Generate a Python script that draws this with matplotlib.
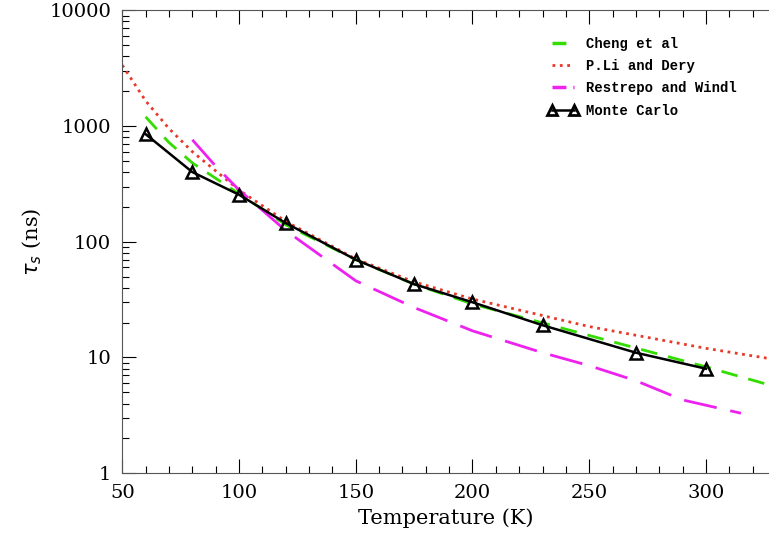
import matplotlib
matplotlib.use("Agg")
import matplotlib.pyplot as plt
from matplotlib.ticker import FixedLocator, NullFormatter
from matplotlib.lines import Line2D

# data
mc_T = [60, 80, 100, 120, 150, 175, 200, 230, 270, 300]
mc_tau = [850, 400, 255, 145, 70, 43, 30, 19, 11, 8.0]

cheng_T = [60, 70, 80, 100, 120, 150, 175, 200, 250, 300, 327]
cheng_tau = [1200, 720, 480, 260, 140, 70, 43, 29, 15.5, 8.3, 5.8]

li_T = [50, 60, 70, 80, 100, 120, 150, 175, 200, 250, 300, 327]
li_tau = [3350, 1650, 950, 600, 280, 150, 71, 45, 32, 18.5, 12, 9.8]

res_T = [80, 90, 100, 120, 150, 175, 200, 230, 250, 270, 290, 315]
res_tau = [760, 450, 280, 125, 46, 27, 17, 11, 8.5, 6.3, 4.3, 3.3]

plt.rcParams['font.family'] = ['DejaVu Serif']

fig = plt.figure(figsize=(7.69, 5.39), dpi=100)
ax = fig.add_axes([0.159, 0.122, 0.841, 0.859])

ax.plot(cheng_T, cheng_tau, color='#33dd00', lw=2, dashes=(6, 4))
ax.plot(li_T, li_tau, color='#e8392b', lw=2, ls=':')
ax.plot(res_T, res_tau, color='#ee22ee', lw=2, dashes=(12, 5))
ax.plot(mc_T, mc_tau, color='black', lw=1.8, marker='^', ms=9, mfc='none', mew=1.8)

ax.set_yscale('log')
ax.set_xlim(50, 327)
ax.set_ylim(1, 10000)
ax.set_xticks([50, 100, 150, 200, 250, 300])
ax.xaxis.set_minor_locator(FixedLocator(range(50, 330, 10)))
ax.set_yticks([1, 10, 100, 1000, 10000])
ax.set_yticklabels(['1', '10', '100', '1000', '10000'])
ax.yaxis.set_minor_formatter(NullFormatter())
ax.tick_params(which='both', direction='in', top=True, right=False, labelsize=14, pad=8)
ax.tick_params(which='major', length=10, width=0.8)
ax.tick_params(which='minor', length=5, width=0.8)
ax.spines['right'].set_visible(False)
for s in ax.spines.values():
    s.set_color('#555555')

ax.set_xlabel('Temperature (K)', fontsize=15, labelpad=4)
ax.set_ylabel(r'$\tau_s$ (ns)', fontsize=15, labelpad=4)

handles = [
    Line2D([], [], color='#33dd00', lw=2.5, dashes=(4, 3)),
    Line2D([], [], color='#e8392b', lw=2, ls=':'),
    Line2D([], [], color='#ee22ee', lw=2.5, dashes=(4, 2, 1, 2)),
    Line2D([], [], color='black', lw=1.8, marker='^', ms=7, mfc='none', mew=2),
]
labels = ['Cheng et al', 'P.Li and Dery', 'Restrepo and Windl', 'Monte Carlo']
ax.legend(handles, labels, loc='upper right', bbox_to_anchor=(0.97, 0.97), frameon=False,
          prop={'family': 'Liberation Mono', 'weight': 'bold', 'size': 10},
          handlelength=2.2, handletextpad=0.6, labelspacing=0.6, numpoints=2)

fig.savefig('out.png', dpi=100)
